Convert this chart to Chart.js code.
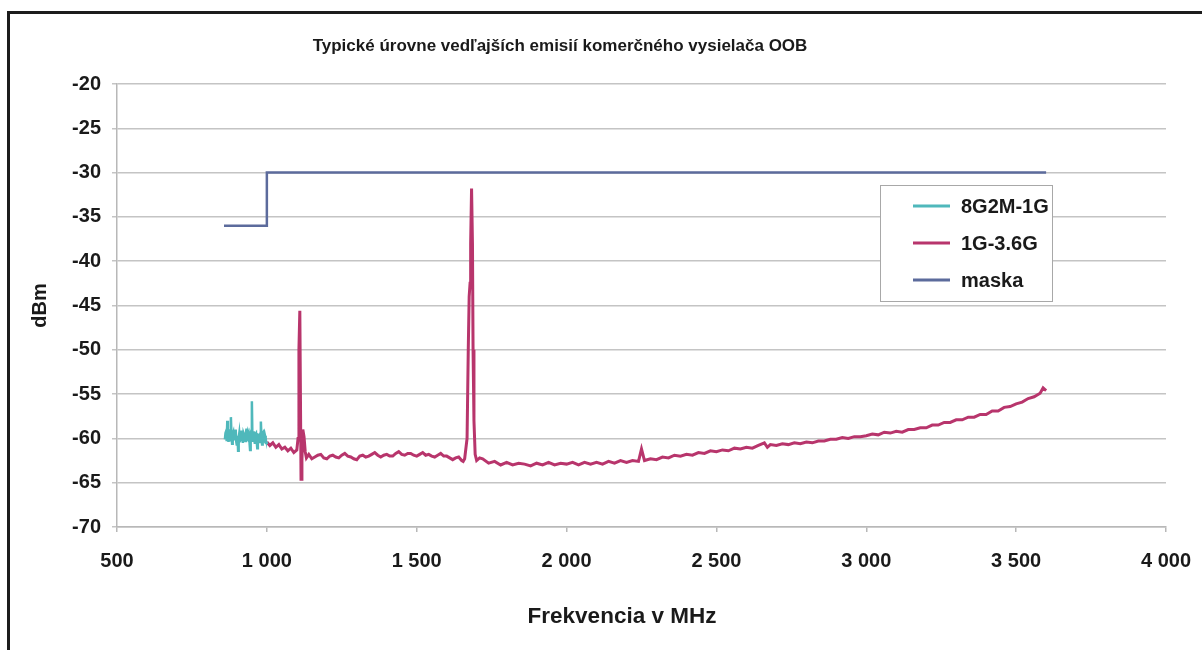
<!DOCTYPE html>
<html>
<head>
<meta charset="utf-8">
<script src="https://cdn.jsdelivr.net/npm/chart.js@4/dist/chart.umd.min.js"></script>
<style>
  html, body { margin: 0; padding: 0; background: #fff; overflow: hidden; }
  #wrap { position: relative; width: 1202px; height: 650px; }
  #frame { position: absolute; left: 7px; top: 11px; width: 1220px; height: 670px; border: 3px solid #1c1c1c; pointer-events: none; }
</style>
</head>
<body>
<div id="wrap">
  <canvas id="chart" width="1202" height="650"></canvas>
  <div id="frame"></div>
</div>
<script>
// Texts
const CHART_TITLE = "Typické úrovne vedľajších emisií komerčného vysielača OOB";
const X_TITLE = "Frekvencia v MHz";
const Y_TITLE = "dBm";
const SERIES_NAMES = ["8G2M-1G", "1G-3.6G", "maska"];

// Axis ticks
const X_TICKS = [500, 1000, 1500, 2000, 2500, 3000, 3500, 4000];
const Y_TICKS = [-20, -25, -30, -35, -40, -45, -50, -55, -60, -65, -70];

// 8G2M-1G sweep (MHz / dBm)
const lowFreq = [860, 862, 864, 866, 868, 870, 872, 874, 876, 878, 880, 882, 884, 886, 888, 890, 892, 894, 896, 898,
  900, 902, 904, 906, 908, 910, 912, 914, 916, 918, 920, 922, 924, 926, 928, 930, 932, 934, 936, 938,
  940, 942, 944, 946, 948, 950, 952, 954, 956, 958, 960, 962, 964, 966, 968, 970, 972, 974, 976, 978,
  980, 982, 984, 986, 988, 990, 992, 994, 996, 998, 1000];
const lowLevel = [-60.1, -59.4, -59.2, -60.3, -58.0, -59.6, -60.4, -59.1, -59.0, -60.2, -57.6, -59.8, -60.6, -59.5, -59.3, -60.1, -60.0, -59.2, -59.0, -60.4,
  -60.8, -59.7, -61.4, -59.9, -59.4, -60.3, -60.2, -59.3, -59.1, -60.0, -60.5, -59.4, -59.6, -60.2, -60.3, -59.5, -58.9, -60.0, -60.1, -59.3,
  -59.5, -60.4, -61.3, -59.6, -59.8, -55.8, -60.4, -59.6, -59.2, -60.1, -60.6, -59.5, -59.4, -60.3, -61.1, -59.8, -59.7, -60.4, -60.2, -59.6,
  -58.1, -59.9, -60.7, -59.4, -59.3, -60.2, -60.3, -59.7, -60.0, -60.5, -60.4];

// 1G-3.6G sweep (MHz / dBm)
const highFreq = [1000, 1010, 1020, 1030, 1040, 1050, 1060, 1070, 1080, 1090, 1100,
  1104, 1107, 1110, 1112, 1114, 1117, 1120, 1124, 1128, 1132, 1140, 1150,
  1160, 1170, 1180, 1190, 1200, 1210, 1220, 1230, 1240, 1250, 1260, 1270, 1280, 1290, 1300, 1310, 1320, 1330, 1340, 1350,
  1360, 1370, 1380, 1390, 1400, 1410, 1420, 1430, 1440, 1450, 1460, 1470, 1480, 1490,
  1500, 1510, 1520, 1530, 1540, 1550, 1560, 1570, 1580, 1590, 1600, 1610, 1620, 1630, 1640, 1650, 1655,
  1660, 1668, 1672, 1675, 1678, 1680, 1683, 1686, 1688, 1691, 1695, 1700, 1710,
  1720, 1740, 1760, 1780, 1800, 1820, 1840, 1860, 1880, 1900, 1920, 1940, 1960, 1980,
  2000, 2020, 2040, 2060, 2080, 2100, 2120, 2140, 2160, 2180, 2200, 2220, 2240, 2250, 2260, 2280,
  2300, 2320, 2340, 2360, 2380, 2400, 2420, 2440, 2460, 2480, 2500, 2520, 2540, 2560, 2580,
  2600, 2620, 2640, 2660, 2670, 2680, 2700, 2720, 2740, 2760, 2780,
  2800, 2820, 2840, 2860, 2880, 2900, 2920, 2940, 2960, 2980,
  3000, 3020, 3040, 3060, 3080, 3100, 3120, 3140, 3160, 3180, 3200, 3220, 3240, 3260, 3280,
  3300, 3320, 3340, 3360, 3380, 3400, 3420, 3440, 3460, 3480, 3500, 3520, 3540, 3560, 3580, 3590, 3600];
const highLevel = [-60.4, -60.8, -60.5, -61.0, -60.7, -61.2, -61.0, -61.4, -61.1, -61.6, -61.3,
  -60.0, -50.0, -45.6, -55.0, -64.6, -62.5, -59.0, -59.8, -61.5, -62.2, -61.8, -62.3,
  -62.1, -61.9, -61.8, -62.2, -62.3, -62.0, -61.9, -62.1, -62.2, -61.9, -61.7, -62.0, -62.1, -62.3, -62.4, -62.0, -61.9, -62.1, -62.0, -61.8,
  -61.6, -61.9, -62.1, -61.9, -61.8, -62.0, -62.0, -61.7, -61.5, -61.8, -61.9, -61.7, -61.7, -61.9,
  -62.0, -61.8, -61.6, -61.9, -61.8, -62.0, -62.1, -61.9, -61.7, -62.0, -62.0, -62.2, -62.4, -62.2, -62.1, -62.5, -62.6,
  -62.3, -60.0, -50.0, -44.0, -42.5, -38.0, -31.8, -38.0, -50.0, -58.0, -61.8, -62.5, -62.2,
  -62.3, -62.8, -62.6, -63.0, -62.7, -63.0, -62.8, -62.9, -63.1, -62.8, -63.0, -62.7, -63.0, -62.8,
  -62.9, -62.7, -63.0, -62.7, -62.9, -62.7, -62.9, -62.6, -62.8, -62.5, -62.7, -62.5, -62.6, -61.2, -62.5, -62.3,
  -62.4, -62.1, -62.2, -61.9, -62.0, -61.8, -61.9, -61.6, -61.7, -61.4, -61.5, -61.3, -61.4, -61.1, -61.2,
  -61.0, -61.1, -60.8, -60.5, -61.0, -60.7, -60.8, -60.6, -60.7, -60.5, -60.6,
  -60.4, -60.5, -60.3, -60.3, -60.1, -60.1, -59.9, -60.0, -59.8, -59.8,
  -59.7, -59.5, -59.6, -59.3, -59.4, -59.2, -59.3, -59.0, -59.0, -58.8, -58.8, -58.5, -58.5, -58.2, -58.2,
  -57.9, -57.9, -57.6, -57.6, -57.3, -57.3, -56.9, -56.9, -56.5, -56.4, -56.1, -55.9, -55.5, -55.3, -54.9, -54.3, -54.6];

// Mask limit (MHz / dBm)
const maskFreq = [857, 1000, 1000, 3600];
const maskLevel = [-36, -36, -30, -30];

const COLORS = ["#4fb8bb", "#b8356c", "#5c6b9c"];
const FONT = "'Liberation Sans', Arial, sans-serif";

const toPoints = (xs, ys) => xs.map((x, i) => ({ x: x, y: ys[i] }));

// formats 1000 as "1 000"
const formatMHz = (value) => {
  return String(value).replace(/\B(?=(\d{3})+(?!\d))/g, " ");
}

// draws the title, x title and the boxed legend where the original sheet has them
const decorPlugin = {
  id: "decor",
  afterDraw(chart) {
    const ctx = chart.ctx;
    ctx.save();
    ctx.fillStyle = "#1a1a1a";
    ctx.font = "bold 17px " + FONT;
    ctx.textAlign = "center";
    ctx.textBaseline = "alphabetic";
    ctx.fillText(CHART_TITLE, 560, 51);

    ctx.font = "bold 22.5px " + FONT;
    ctx.fillText(X_TITLE, 622, 623);

    // legend box
    ctx.strokeStyle = "#a8a8a8";
    ctx.lineWidth = 1;
    ctx.fillStyle = "#fff";
    ctx.fillRect(880.5, 185.5, 172, 116);
    ctx.strokeRect(880.5, 185.5, 172, 116);

    ctx.font = "bold 20px " + FONT;
    ctx.textAlign = "left";
    ctx.textBaseline = "middle";
    chart.data.datasets.forEach((dataset, i) => {
      let y = 206 + i * 37;
      ctx.strokeStyle = dataset.borderColor;
      ctx.lineWidth = 3;
      ctx.beginPath();
      ctx.moveTo(913, y);
      ctx.lineTo(950, y);
      ctx.stroke();
      ctx.fillStyle = "#1a1a1a";
      ctx.fillText(dataset.label, 961, y + 1);
    });
    ctx.restore();
  }
};

const setup = () => {
  const chartElement = document.getElementById("chart").getContext("2d");
  new Chart(chartElement, {
    type: "scatter",
    data: {
      datasets: [{
        label: SERIES_NAMES[0],
        data: toPoints(lowFreq, lowLevel),
        borderColor: COLORS[0],
        borderWidth: 2.5
      }, {
        label: SERIES_NAMES[1],
        data: toPoints(highFreq, highLevel),
        borderColor: COLORS[1],
        borderWidth: 3
      }, {
        label: SERIES_NAMES[2],
        data: toPoints(maskFreq, maskLevel),
        borderColor: COLORS[2],
        borderWidth: 2.5
      }]
    },
    options: {
      responsive: false,
      animation: false,
      showLine: true,
      pointRadius: 0,
      pointHoverRadius: 0,
      layout: { padding: { top: 84, left: 12, right: 36, bottom: 0 } },
      plugins: {
        legend: { display: false },
        title: { display: false },
        tooltip: { enabled: false }
      },
      scales: {
        x: {
          type: "linear",
          min: 500,
          max: 4000,
          afterFit: (scale) => {
            scale.height = 123;
            scale.paddingLeft = 0;
            scale.paddingRight = 0;
          },
          afterBuildTicks: (scale) => { scale.ticks = X_TICKS.map(v => ({ value: v })); },
          grid: { drawOnChartArea: false, drawTicks: true, tickLength: 5, color: "#b8b8b8", lineWidth: 1.5 },
          border: { color: "#b8b8b8", width: 1.5 },
          ticks: {
            padding: 17,
            maxRotation: 0,
            color: "#1a1a1a",
            font: { family: FONT, size: 20, weight: "bold" },
            callback: (value) => formatMHz(value)
          }
        },
        y: {
          type: "linear",
          min: -70,
          max: -20,
          afterFit: (scale) => { scale.width = 105; },
          afterBuildTicks: (scale) => { scale.ticks = Y_TICKS.map(v => ({ value: v })); },
          grid: { drawTicks: true, tickLength: 5, color: "#c4c4c4", lineWidth: 1.5 },
          border: { color: "#b8b8b8", width: 1.5 },
          ticks: {
            padding: 11,
            color: "#1a1a1a",
            font: { family: FONT, size: 20, weight: "bold" }
          },
          title: {
            display: true,
            text: Y_TITLE,
            color: "#1a1a1a",
            font: { family: FONT, size: 20, weight: "bold" },
            padding: { top: 16, bottom: 0 }
          }
        }
      }
    },
    plugins: [decorPlugin]
  });
}

window.addEventListener("load", setup);
</script>
</body>
</html>
